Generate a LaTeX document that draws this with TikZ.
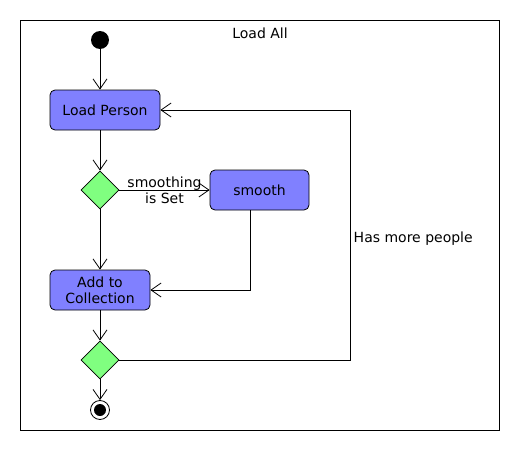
\documentclass[tikz,border=0pt]{standalone}
\usepackage{fontspec}
\setmainfont{DejaVu Sans}
\usetikzlibrary{arrows.meta,shapes.geometric}
\begin{document}
\begin{tikzpicture}[x=1pt,y=-1pt,
  every node/.style={font=\fontsize{14}{16}\selectfont},
  act/.style={draw=black,fill=blue!50!white,rounded corners=5pt,line width=0.8pt,align=center,inner sep=0pt},
  dec/.style={draw=black,fill=green!50!white,diamond,minimum width=38pt,minimum height=38pt,inner sep=0pt,line width=0.8pt},
  flow/.style={line width=0.8pt,-{Straight Barb[length=10pt,width=14pt,line width=0.8pt]}}]
\useasboundingbox (0,0) rectangle (520,450);
\fill[white] (0,0) rectangle (520,450);
\draw[line width=0.8pt] (20,20) rectangle (499,430);
\node (title) at (260,33) {Load All};
\node[circle,fill=black,minimum size=18pt,inner sep=0pt] (start) at (100,40) {};
\node[act,minimum width=110pt,minimum height=40pt] (load) at (105,110) {Load Person};
\node[dec] (d1) at (100,190) {};
\node[act,minimum width=99pt,minimum height=40pt] (smooth) at (259.5,190) {smooth};
\node[act,minimum width=100pt,minimum height=40pt] (add) at (100,290) {Add to\\Collection};
\node[dec] (d2) at (100,360) {};
\node[circle,draw=black,line width=0.8pt,minimum size=19pt,inner sep=0pt] (end) at (100,410) {};
\node[circle,fill=black,minimum size=12pt,inner sep=0pt] (endin) at (100,410) {};
\coordinate (c1) at (350,360);
\coordinate (c2) at (350,110);
\coordinate (c3) at (250,290);
\draw[flow] (start) -- (start|-load.north);
\draw[flow] (load.south-|d1) -- (d1.north);
\draw[flow] (d1.east) -- node[align=center,inner sep=1pt]{smoothing\\is Set} (smooth.west);
\draw[flow] (d1.south) -- (add.north);
\draw[flow] (smooth.south-|c3) -- (c3) -- (add.east);
\draw[flow] (add.south) -- (d2.north);
\draw[flow] (d2.south) -- (end.north);
\draw[flow] (d2.east) -- (c1) -- node[right,pos=0.484,xshift=0pt]{Has more people} (c2) -- (load.east);
\end{tikzpicture}
\end{document}
